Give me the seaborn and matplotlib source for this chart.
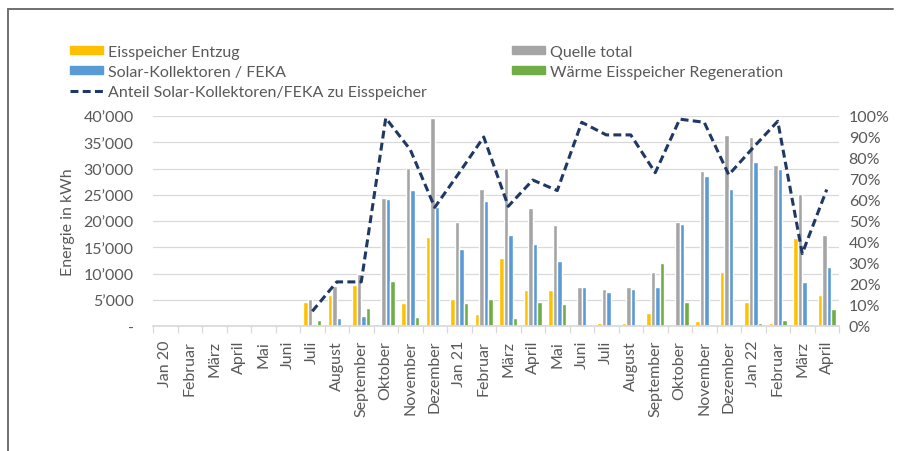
import numpy as np
import pandas as pd
import matplotlib
matplotlib.use("Agg")
import matplotlib.pyplot as plt
import seaborn as sns
from matplotlib.ticker import FuncFormatter, MultipleLocator
from matplotlib.lines import Line2D
from matplotlib.patches import Patch

# Monthly energy balance of the ice storage system
months = ["Jan 20", "Februar", "März", "April", "Mai", "Juni", "Juli", "August",
          "September", "Oktober", "November", "Dezember", "Jan 21", "Februar",
          "März", "April", "Mai", "Juni", "Juli", "August", "September",
          "Oktober", "November", "Dezember", "Jan 22", "Februar", "März", "April"]

eisspeicher_entzug = [0, 0, 0, 0, 0, 0, 4650, 5900, 7800, 100, 4300, 17000, 5100,
                      2350, 12870, 6900, 6900, 100, 500, 640, 2550, 250, 900,
                      10300, 4600, 500, 16700, 5860]
quelle_total = [0, 0, 0, 0, 0, 0, 5100, 7600, 9900, 24460, 30100, 39600, 19750,
                26100, 30100, 22500, 19300, 7500, 7000, 7500, 10200, 19750,
                29500, 36300, 36000, 30600, 25150, 17300]
solar_feka = [0, 0, 0, 0, 0, 0, 300, 1600, 2000, 24200, 25900, 22700, 14650,
              23760, 17330, 15600, 12400, 7450, 6400, 7000, 7450, 19400, 28500,
              26100, 31300, 29900, 8400, 11270]
regeneration = [0, 0, 0, 0, 0, 0, 1150, 0, 3500, 8600, 1650, 250, 4450, 5100,
                1600, 4600, 4150, 0, 0, 0, 12000, 4600, 0, 250, 500, 1150, 0, 3300]
anteil_solar = [np.nan] * 6 + [7, 21, 21, 99, 84, 56.5, 73, 90, 57, 69.5, 64.5,
                               97, 91, 91, 73, 98.5, 97, 72, 85, 97.5, 34.5, 65]

series = ["Eisspeicher Entzug", "Quelle total", "Solar-Kollektoren / FEKA",
          "Wärme Eisspeicher Regeneration"]
line_label = "Anteil Solar-Kollektoren/FEKA zu Eisspeicher"
colors = ["#FFC000", "#A5A5A5", "#5B9BD5", "#70AD47"]
line_color = "#1F3864"
text_color = "#595959"
grid_color = "#D9D9D9"
fs = 11.5

idx = np.arange(len(months))
wide = pd.DataFrame({
    "idx": idx,
    series[0]: eisspeicher_entzug,
    series[1]: quelle_total,
    series[2]: solar_feka,
    series[3]: regeneration,
})
long = wide.melt(id_vars="idx", var_name="Serie", value_name="kWh")

sns.set_theme(style="white")
plt.rcParams["font.family"] = ["Lato", "DejaVu Sans"]

fig = plt.figure(figsize=(9.06, 4.52), dpi=100)
ax = fig.add_axes([153 / 906, 1 - 327 / 452, 686 / 906, 210 / 452])

sns.barplot(data=long, x="idx", y="kWh", hue="Serie", hue_order=series,
            palette=colors, width=0.74, saturation=1, errorbar=None,
            legend=False, ax=ax)

ax.set_xlim(-0.5, len(months) - 0.5)
ax.set_ylim(0, 40000)
ax.yaxis.set_major_locator(MultipleLocator(5000))
ax.yaxis.set_major_formatter(FuncFormatter(
    lambda v, _: "-" if v == 0 else f"{int(v):,}".replace(",", "\u2019")))
ax.grid(axis="y", color=grid_color, lw=0.9)
ax.set_axisbelow(True)
for side in ["top", "right", "left"]:
    ax.spines[side].set_visible(False)
ax.spines["bottom"].set_color(grid_color)

ax.set_xticks(idx)
ax.set_xticklabels(months, rotation=90)
ax.set_xticks(np.arange(-0.5, len(months)), minor=True)
ax.tick_params(axis="x", which="major", length=0, pad=10, labelsize=fs,
               labelcolor=text_color)
ax.tick_params(axis="x", which="minor", length=5, width=0.9, color=grid_color,
               bottom=True)
ax.tick_params(axis="y", length=0, pad=14, labelsize=fs, labelcolor=text_color)
ax.set_xlabel("")
ax.set_ylabel("Energie in kWh", fontsize=fs, color=text_color, labelpad=6)

ax2 = ax.twinx()
sns.lineplot(x=idx, y=anteil_solar, ax=ax2, color=line_color, lw=2.2,
             linestyle=(0, (2.6, 1.4)))
ax2.set_ylim(0, 100)
ax2.yaxis.set_major_locator(MultipleLocator(10))
ax2.yaxis.set_major_formatter(FuncFormatter(lambda v, _: f"{int(round(v))}%"))
ax2.tick_params(axis="y", length=0, pad=7, labelsize=fs, labelcolor=text_color)
ax2.set_ylabel("")
for side in ax2.spines:
    ax2.spines[side].set_visible(False)

handles = [
    Patch(color=colors[0], label=series[0]),
    Patch(color=colors[2], label=series[2]),
    Line2D([], [], color=line_color, lw=2.2, linestyle=(0, (2.6, 1.4)),
           label=line_label),
    Patch(color=colors[1], label=series[1]),
    Patch(color=colors[3], label=series[3]),
]
fig.legend(handles=handles, ncol=2, loc="upper left",
           bbox_to_anchor=(70 / 906, 1 - 46 / 452), frameon=False,
           fontsize=fs, labelcolor=text_color, borderpad=0, borderaxespad=0,
           handlelength=2.06, handleheight=0.38, handletextpad=0.31,
           labelspacing=0.37, columnspacing=5.35)

# Outer frame
fig.add_artist(Line2D([8 / 906, 8 / 906], [0, 1 - 10 / 452],
                      transform=fig.transFigure, color="#707070", lw=1.4))
fig.add_artist(Line2D([8 / 906, 893 / 906], [1 - 10 / 452, 1 - 10 / 452],
                      transform=fig.transFigure, color="#707070", lw=1.4))

fig.savefig("out.png", dpi=100)
